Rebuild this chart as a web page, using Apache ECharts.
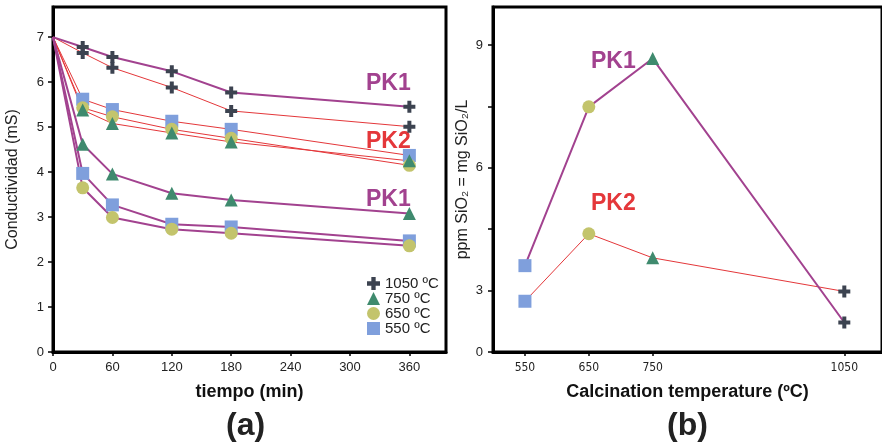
<!DOCTYPE html>
<html>
<head>
<meta charset="utf-8">
<script src="https://cdn.jsdelivr.net/npm/echarts@6/dist/echarts.min.js"></script>
<style>
  html, body { margin: 0; padding: 0; background: #fff; }
  #chart { width: 882px; height: 447px; }
</style>
</head>
<body>
<div id="chart"></div>
<script>
// (a) conductivity vs time
const times = [0, 30, 60, 120, 180, 360];
const startValue = 7;
const pk1_1050 = [6.78, 6.56, 6.24, 5.77, 5.45];
const pk2_1050 = [6.65, 6.32, 5.88, 5.36, 5.01];
const pk2_550 = [5.62, 5.39, 5.13, 4.95, 4.37];
const pk2_650 = [5.43, 5.23, 4.95, 4.75, 4.15];
const pk2_750 = [5.38, 5.08, 4.87, 4.67, 4.25];
const pk1_750 = [4.62, 3.96, 3.53, 3.38, 3.08];
const pk1_550 = [3.97, 3.27, 2.84, 2.78, 2.47];
const pk1_650 = [3.65, 2.99, 2.73, 2.64, 2.36];
const timeTicks = [0, 60, 120, 180, 240, 300, 360];
const condTicks = [0, 1, 2, 3, 4, 5, 6, 7];

// (b) silica vs calcination temperature
const temps = [550, 650, 750, 1050];
const pk1Silica = [3.61, 7.49, 8.67, 2.22];
const pk2Silica = [2.74, 4.39, 3.80, 2.98];
const tempTicks = [550, 650, 750, 1050];
const silicaTicks = [1.5, 3, 4.5, 6, 7.5, 9];
const silicaLabels = [1.5, 3, 6, 9];

const tempNames = ['1050 ºC', '750 ºC', '650 ºC', '550 ºC'];

const plusPath = 'path://M4,0H8V4H12V8H8V12H4V8H0V4H4Z';
const marker = {
  1050: { symbol: plusPath, color: '#3c4350', size: 12 },
  750: { symbol: 'triangle', color: '#3f8a6e', size: 13 },
  650: { symbol: 'circle', color: '#c3c46c', size: 13 },
  550: { symbol: 'rect', color: '#7f9fdc', size: 13 }
};
const PK1 = '#a2428f';
const PK2 = '#e4373a';
const FONT = 'Liberation Sans, Arial, sans-serif';

function timeSeries(temp, values, lineColor, width) {
  const m = marker[temp];
  const data = [{ value: [times[0], startValue], symbol: 'none' }];
  values.forEach(function (v, i) { data.push([times[i + 1], v]); });
  return {
    name: temp + ' ºC',
    type: 'line',
    xAxisIndex: 0, yAxisIndex: 0,
    data: data,
    symbol: m.symbol,
    symbolSize: m.size,
    symbolKeepAspect: true,
    itemStyle: { color: m.color, opacity: 1 },
    lineStyle: { color: lineColor, width: width },
    z: width > 1 ? 3 : 2,
    animation: false
  };
}

function tempSeries(name, values, lineColor, width) {
  return {
    name: name,
    type: 'line',
    xAxisIndex: 1, yAxisIndex: 1,
    data: values.map(function (v, i) {
      const m = marker[temps[i]];
      return {
        value: [temps[i], v],
        symbol: m.symbol,
        symbolSize: m.size,
        itemStyle: { color: m.color }
      };
    }),
    symbolKeepAspect: true,
    lineStyle: { color: lineColor, width: width },
    animation: false
  };
}

const chart = echarts.init(document.getElementById('chart'));

const option = {
  backgroundColor: '#fff',
  animation: false,
  textStyle: { fontFamily: FONT },
  grid: [
    { left: 53, top: 7, width: 393, height: 345, show: true, borderColor: '#000', borderWidth: 3 },
    { left: 493, top: 7, right: -12, height: 345, show: true, borderColor: '#000', borderWidth: 3 }
  ],
  xAxis: [
    {
      type: 'value', gridIndex: 0, min: 0, max: 397,
      name: 'tiempo (min)', nameLocation: 'middle', nameGap: 31,
      nameTextStyle: { fontSize: 18, fontWeight: 'bold', color: '#111', fontFamily: FONT },
      axisLine: { show: true, lineStyle: { color: '#000', width: 3 } },
      axisTick: { show: true, customValues: timeTicks, length: 4, lineStyle: { color: '#000', width: 1.5 } },
      axisLabel: { customValues: timeTicks, fontSize: 13, color: '#222', margin: 9, fontFamily: FONT },
      splitLine: { show: false }
    },
    {
      type: 'value', gridIndex: 1, min: 500, max: 1109,
      name: 'Calcination temperature (ºC)', nameLocation: 'middle', nameGap: 31,
      nameTextStyle: { fontSize: 18, fontWeight: 'bold', color: '#111', fontFamily: FONT },
      axisLine: { show: true, lineStyle: { color: '#000', width: 3 } },
      axisTick: { show: true, customValues: tempTicks, length: 4, lineStyle: { color: '#000', width: 1.5 } },
      axisLabel: {
        customValues: tempTicks, fontSize: 12, color: '#222', margin: 10,
        fontFamily: 'Liberation Sans Narrow, DejaVu Sans Condensed, Liberation Sans, sans-serif',
        formatter: function (v) { return String(v); }
      },
      splitLine: { show: false }
    }
  ],
  yAxis: [
    {
      type: 'value', gridIndex: 0, min: 0, max: 7.67,
      name: 'Conductividad (mS)', nameLocation: 'middle', nameGap: 32,
      nameTextStyle: { fontSize: 16, color: '#222', fontFamily: FONT },
      axisLine: { show: true, lineStyle: { color: '#000', width: 3 } },
      axisTick: { show: true, customValues: condTicks, length: 5, lineStyle: { color: '#000', width: 1.5 } },
      axisLabel: { customValues: condTicks, fontSize: 13, color: '#222', margin: 9, fontFamily: FONT },
      splitLine: { show: false }
    },
    {
      type: 'value', gridIndex: 1, min: 1.5, max: 9.93,
      name: 'ppm SiO₂ = mg SiO₂/L', nameLocation: 'middle', nameGap: 22,
      nameTextStyle: { fontSize: 16, color: '#222', fontFamily: FONT },
      axisLine: { show: true, lineStyle: { color: '#000', width: 3 } },
      axisTick: { show: true, customValues: silicaTicks, length: 5, lineStyle: { color: '#000', width: 1.5 } },
      axisLabel: {
        customValues: silicaLabels, fontSize: 13, color: '#222', margin: 10, fontFamily: FONT,
        formatter: function (v) { return v === 1.5 ? '0' : String(v); }
      },
      splitLine: { show: false }
    }
  ],
  legend: {
    orient: 'vertical', left: 362, top: 271,
    itemWidth: 13, itemHeight: 13, itemGap: 0,
    textStyle: { fontSize: 15, color: '#222', fontFamily: FONT },
    selectedMode: false,
    data: tempNames.map(function (n) {
      const m = marker[parseInt(n, 10)];
      return { name: n, icon: m.symbol, itemStyle: { color: m.color } };
    })
  },
  graphic: [
    { type: 'text', left: 366, top: 72, style: { text: 'PK1', fill: PK1, font: 'bold 23px ' + FONT } },
    { type: 'text', left: 366, top: 130, style: { text: 'PK2', fill: PK2, font: 'bold 23px ' + FONT } },
    { type: 'text', left: 366, top: 188, style: { text: 'PK1', fill: PK1, font: 'bold 23px ' + FONT } },
    { type: 'text', left: 591, top: 50, style: { text: 'PK1', fill: PK1, font: 'bold 23px ' + FONT } },
    { type: 'text', left: 591, top: 192, style: { text: 'PK2', fill: PK2, font: 'bold 23px ' + FONT } },
    { type: 'text', left: 226, top: 410, style: { text: '(a)', fill: '#222', font: 'bold 32px ' + FONT } },
    { type: 'text', left: 667, top: 410, style: { text: '(b)', fill: '#222', font: 'bold 32px ' + FONT } }
  ],
  series: [
    timeSeries(1050, pk2_1050, PK2, 1),
    timeSeries(550, pk2_550, PK2, 1),
    timeSeries(650, pk2_650, PK2, 1),
    timeSeries(750, pk2_750, PK2, 1),
    timeSeries(1050, pk1_1050, PK1, 2),
    timeSeries(750, pk1_750, PK1, 2),
    timeSeries(550, pk1_550, PK1, 2),
    timeSeries(650, pk1_650, PK1, 2),
    tempSeries('PK2 silica', pk2Silica, PK2, 1),
    tempSeries('PK1 silica', pk1Silica, PK1, 2)
  ]
};

chart.setOption(option);
</script>
</body>
</html>
